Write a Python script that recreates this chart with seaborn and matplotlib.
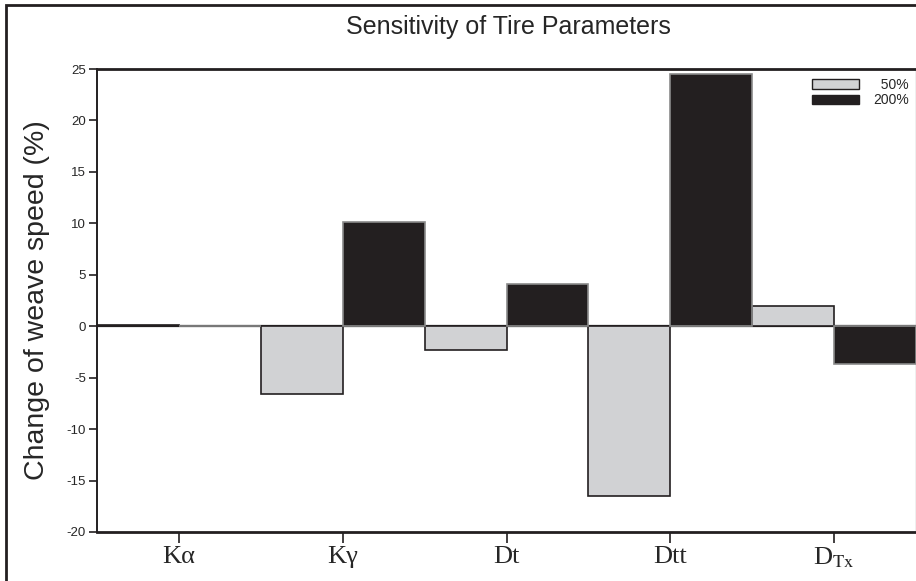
import matplotlib
matplotlib.use("Agg")
import matplotlib.pyplot as plt
import matplotlib.patches as mpatches
import seaborn as sns
import pandas as pd

# ---- data ----
categories = ["Kα", "Kγ", "Dt", "Dtt", "DTx"]
tick_labels = ["Kα", "Kγ", "Dt", "Dtt", r"D$_{\mathrm{Tx}}$"]
series_names = ["50%", "200%"]
values_50 = [0.15, -6.6, -2.3, -16.5, 2.0]
values_200 = [0.03, 10.1, 4.1, 24.5, -3.7]
y_ticks = [-20, -15, -10, -5, 0, 5, 10, 15, 20, 25]

df = pd.DataFrame({
    "param": categories * 2,
    "level": [series_names[0]] * len(categories) + [series_names[1]] * len(categories),
    "value": values_50 + values_200,
})

sns.set_theme(style="white")
plt.rcParams["font.family"] = ["Liberation Sans", "DejaVu Sans"]
plt.rcParams["mathtext.fontset"] = "stix"

fill = {"50%": "#d1d2d4", "200%": "#231f20"}
edge = {"50%": "#231f20", "200%": "#8a8a8a"}

fig = plt.figure(figsize=(9.16, 5.81), dpi=100)
ax = fig.add_axes([97 / 916, 1 - 532 / 581, (916 - 97) / 916, (532 - 69) / 581])

sns.barplot(data=df, x="param", y="value", hue="level", order=categories,
            hue_order=series_names, palette=fill, width=1.0, gap=0,
            saturation=1, legend=False, ax=ax)

for cont, name in zip(ax.containers, series_names):
    for bar in cont:
        bar.set_edgecolor(edge[name])
        bar.set_linewidth(1.2)
        bar.set_zorder(3)

ax.axhline(0, color="#231f20", lw=1.6, zorder=2)

ax.set_xlim(-0.5, len(categories) - 0.5)
ax.set_ylim(-20, 25)
ax.set_yticks(y_ticks)
ax.set_yticklabels([str(t) for t in y_ticks], fontsize=9.5)
ax.set_xticks(range(len(categories)))
ax.set_xticklabels(tick_labels, fontsize=19, family=["Liberation Serif", "DejaVu Serif"])

ax.tick_params(axis="y", direction="out", length=6, width=1.2, color="#231f20", pad=2, left=True)
ax.tick_params(axis="x", direction="out", length=8, width=1.2, color="#231f20", pad=2, bottom=True)

ax.set_xlabel("")
ax.set_ylabel("Change of weave speed (%)", fontsize=20.5, labelpad=12)

for s in ["left", "top", "bottom"]:
    ax.spines[s].set_color("#231f20")
ax.spines["left"].set_linewidth(1.4)
ax.spines["top"].set_linewidth(2.0)
ax.spines["bottom"].set_linewidth(2.0)
ax.spines["right"].set_color("#b0b0b0")
ax.spines["right"].set_linewidth(1.0)

# legend
handles = [mpatches.Patch(facecolor=fill[n], edgecolor=edge[n] if n == "50%" else fill[n], linewidth=1.0)
           for n in series_names]
labels = [n.rjust(4).replace(" ", "  ") for n in series_names]
leg = ax.legend(handles, labels, loc="upper right",
                bbox_to_anchor=(909 / 916, 1 - 78 / 581), bbox_transform=fig.transFigure,
                frameon=False, fontsize=10, handlelength=3.4, handleheight=0.7,
                handletextpad=1.0, labelspacing=0.1, borderpad=0, borderaxespad=0)

fig.text(508 / 916, 1 - 27 / 581, "Sensitivity of Tire Parameters", ha="center", va="center",
         fontsize=18)

# figure frame
frame = mpatches.Rectangle((6 / 916, -0.1), 1.2, (1 - 5 / 581) + 0.1, transform=fig.transFigure,
                           fill=False, edgecolor="#231f20", linewidth=2.0, clip_on=False)
fig.patches.append(frame)

fig.savefig("out.png", dpi=100)
